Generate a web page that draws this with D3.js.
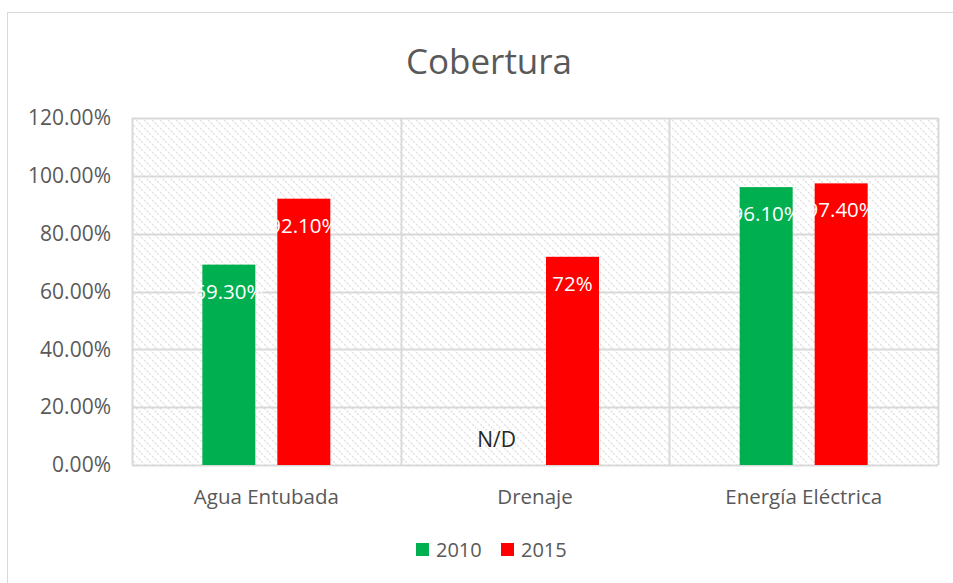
<!doctype html>
<html>
<meta charset="UTF-8">
<head>
<title>Cobertura</title>
<script src="https://d3js.org/d3.v7.min.js"></script>
<style>
  body { margin: 0; background: #fff; }
  svg text { font-family: "Open Sans", sans-serif; }
</style>
</head>
<body>
<script>
// data
var categories = ["Agua Entubada", "Drenaje", "Energía Eléctrica"];
var series = ["2010", "2015"];
var values2010 = [0.693, null, 0.961];
var values2015 = [0.921, 0.72, 0.974];
var labels2010 = ["69.30%", "N/D", "96.10%"];
var labels2015 = ["92.10%", "72%", "97.40%"];
var yTicks = [0, 0.2, 0.4, 0.6, 0.8, 1.0, 1.2];
var colors = ["#00B050", "#FF0000"];

var width = 953, height = 583;
var plot = {left: 132, right: 938, top: 118, bottom: 465};
var grey = "#d9d9d9", txt = "#595959";

var svg = d3.select("body").append("svg")
  .attr("width", width).attr("height", height);

// hatched plot background
var pat = svg.append("defs").append("pattern")
  .attr("id", "hatch").attr("patternUnits", "userSpaceOnUse")
  .attr("width", 8).attr("height", 8);
pat.append("path")
  .attr("d", "M-2,-2L10,10M-2,6L2,10M6,-2L10,2")
  .attr("stroke", "#e0e0e0").attr("stroke-width", 1.5)
  .attr("stroke-dasharray", "2,1.4");

// chart frame
svg.append("rect")
  .attr("x", 7.5).attr("y", 12.5).attr("width", 980).attr("height", 620)
  .attr("fill", "none").attr("stroke", grey);

var x0 = d3.scaleBand().domain(categories).range([plot.left, plot.right]);
var inner = 128;
var x1 = d3.scaleBand().domain(series)
  .range([(x0.bandwidth() - inner) / 2, (x0.bandwidth() + inner) / 2])
  .paddingInner(0.2933);
var y = d3.scaleLinear().domain([0, 1.2]).range([plot.bottom, plot.top]);

svg.append("rect")
  .attr("x", plot.left).attr("y", plot.top)
  .attr("width", plot.right - plot.left).attr("height", plot.bottom - plot.top)
  .attr("fill", "url(#hatch)");

// gridlines
svg.append("g").selectAll("line").data(yTicks).enter().append("line")
  .attr("x1", plot.left).attr("x2", plot.right)
  .attr("y1", function(d) { return Math.round(y(d)) + 0.5; })
  .attr("y2", function(d) { return Math.round(y(d)) + 0.5; })
  .attr("stroke", grey).attr("stroke-width", 2);

// vertical separators
var seps = categories.map(function(c) { return x0(c); }).concat([plot.right]);
svg.append("g").selectAll("line").data(seps).enter().append("line")
  .attr("x1", function(d) { return Math.round(d) + 0.5; })
  .attr("x2", function(d) { return Math.round(d) + 0.5; })
  .attr("y1", plot.top).attr("y2", plot.bottom)
  .attr("stroke", grey).attr("stroke-width", 2);

// y axis labels
var yAxis = svg.append("g")
  .attr("transform", "translate(" + plot.left + ",0)")
  .call(d3.axisLeft(y).tickValues(yTicks).tickFormat(d3.format(".2%")).tickSize(0).tickPadding(21));
yAxis.select(".domain").remove();
yAxis.selectAll("text").attr("fill", txt).attr("font-size", 21)
  .attr("font-family", "Open Sans, sans-serif");

// x axis labels
var xAxis = svg.append("g")
  .attr("transform", "translate(0," + plot.bottom + ")")
  .call(d3.axisBottom(x0).tickSize(0).tickPadding(24));
xAxis.select(".domain").remove();
xAxis.selectAll("text").attr("fill", txt).attr("font-size", 20.5)
  .attr("font-family", "Open Sans, sans-serif");

// bars
var rows = [];
categories.forEach(function(c, i) {
  rows.push({cat: c, s: "2010", v: values2010[i], label: labels2010[i], color: colors[0]});
  rows.push({cat: c, s: "2015", v: values2015[i], label: labels2015[i], color: colors[1]});
});

svg.append("g").selectAll("rect").data(rows.filter(function(d) { return d.v != null; }))
  .enter().append("rect")
  .attr("x", function(d) { return x0(d.cat) + x1(d.s); })
  .attr("y", function(d) { return y(d.v); })
  .attr("width", x1.bandwidth())
  .attr("height", function(d) { return y(0) - y(d.v); })
  .attr("fill", function(d) { return d.color; });

// data labels
svg.append("g").selectAll("text").data(rows).enter().append("text")
  .attr("x", function(d) { return x0(d.cat) + x1(d.s) + x1.bandwidth() / 2 - (d.v == null ? 1 : 0); })
  .attr("y", function(d) { return d.v == null ? y(0) - 18 : y(d.v) + 34; })
  .attr("text-anchor", "middle")
  .attr("font-size", function(d) { return d.v == null ? 21 : 20.5; })
  .attr("fill", function(d) { return d.v == null ? "#262626" : "#fff"; })
  .text(function(d) { return d.label; });

// title
svg.append("text")
  .attr("x", 489).attr("y", 74)
  .attr("text-anchor", "middle")
  .attr("font-size", 35).attr("fill", txt)
  .text("Cobertura");

// legend
var leg = svg.append("g").selectAll("g").data(series).enter().append("g")
  .attr("transform", function(d, i) { return "translate(" + (416 + i * 85) + ",543)"; });
leg.append("rect").attr("width", 13).attr("height", 13)
  .attr("fill", function(d, i) { return colors[i]; });
leg.append("text").attr("x", 20).attr("y", 13.5)
  .attr("font-size", 20).attr("fill", txt)
  .text(function(d) { return d; });
</script>
</body>
</html>
